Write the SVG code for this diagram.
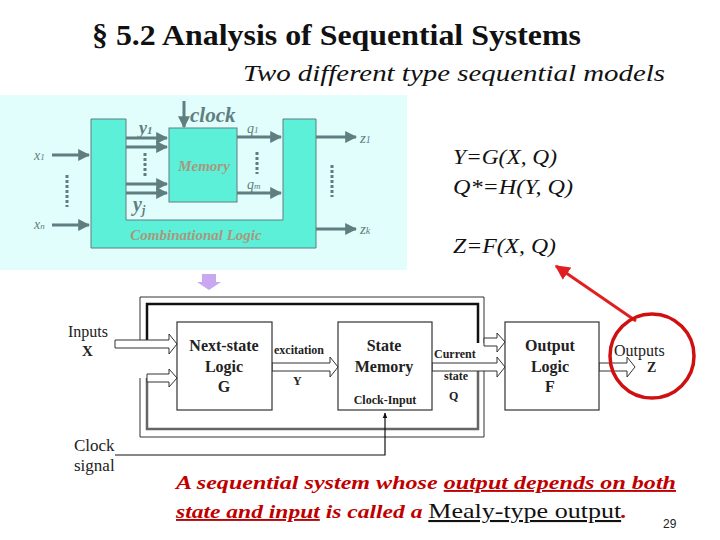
<svg xmlns="http://www.w3.org/2000/svg" width="720" height="540" viewBox="0 0 720 540">
<style>
.ser{font-family:"Liberation Serif",serif}
.g{stroke:#5f7e80;stroke-width:3;fill:none}
.gt{font-family:"Liberation Serif",serif;font-style:italic;fill:#5f7e80}
.box{fill:#fff;stroke:#333;stroke-width:1.2}
.bl{font-family:"Liberation Serif",serif;font-weight:bold;font-size:16px;text-anchor:middle;fill:#222}
.sm{font-family:"Liberation Serif",serif;font-weight:bold;font-size:12px;fill:#222}
.ha{fill:#fff;stroke:#333;stroke-width:1}
.red{font-family:"Liberation Serif",serif;font-style:italic;font-weight:bold;font-size:19px;fill:#c00000}
</style>
<defs>
<marker id="ga" viewBox="0 0 10 10" refX="9" refY="5" markerWidth="4" markerHeight="4" orient="auto"><path d="M0,0L10,5L0,10z" fill="#5f7e80"/></marker>
<marker id="ra" viewBox="0 0 10 10" refX="9" refY="5" markerWidth="5" markerHeight="5" orient="auto"><path d="M0,0L10,5L0,10z" fill="#e02020"/></marker>
<marker id="ka" viewBox="0 0 10 10" refX="9" refY="5" markerWidth="5" markerHeight="6" orient="auto"><path d="M0,1L10,5L0,9z" fill="#111"/></marker>
</defs>
<rect width="720" height="540" fill="#fff"/>
<text x="92" y="45" class="ser" font-size="29" font-weight="bold" fill="#111" textLength="489" lengthAdjust="spacingAndGlyphs">§ 5.2  Analysis of Sequential Systems</text>
<text x="243" y="81" class="ser" font-size="23" font-style="italic" fill="#111" textLength="422" lengthAdjust="spacingAndGlyphs">Two different type sequential models</text>

<g id="top-model">
<rect x="0" y="95" width="407" height="175" fill="#e1fdfc"/>
<path d="M91,119H126V220H283V119H316V248H91Z" fill="#5df0d8" stroke="#5f7e80" stroke-width="1"/>
<rect x="169" y="128" width="68" height="74" fill="#5df0d8" stroke="#5f7e80" stroke-width="1"/>
<text x="204" y="171" class="gt" font-size="15" font-weight="bold" text-anchor="middle" style="fill:#a89880">Memory</text>
<text x="196" y="240" class="gt" font-size="15" font-weight="bold" text-anchor="middle" style="fill:#a89880">Combinational Logic</text>
<g class="g">
<line x1="52" y1="155" x2="89" y2="155" marker-end="url(#ga)"/>
<line x1="52" y1="225" x2="89" y2="225" marker-end="url(#ga)"/>
<line x1="126" y1="138" x2="167" y2="138" marker-end="url(#ga)"/>
<line x1="126" y1="147" x2="167" y2="147" marker-end="url(#ga)"/>
<line x1="126" y1="184" x2="167" y2="184" marker-end="url(#ga)"/>
<line x1="126" y1="193" x2="167" y2="193" marker-end="url(#ga)"/>
<line x1="237" y1="137" x2="281" y2="137" marker-end="url(#ga)"/>
<line x1="237" y1="193" x2="281" y2="193" marker-end="url(#ga)"/>
<line x1="316" y1="137" x2="356" y2="137" marker-end="url(#ga)"/>
<line x1="316" y1="229" x2="356" y2="229" marker-end="url(#ga)"/>
<line x1="184" y1="101" x2="184" y2="127" marker-end="url(#ga)"/>
<line x1="67" y1="175" x2="67" y2="207" stroke-dasharray="3,2"/>
<line x1="145" y1="153" x2="145" y2="176" stroke-dasharray="3,2"/>
<line x1="257" y1="152" x2="257" y2="174" stroke-dasharray="3,2"/>
<line x1="332" y1="165" x2="332" y2="197" stroke-dasharray="3,2"/>
</g>
<text x="190" y="122" class="gt" font-size="21" font-weight="bold">clock</text>
<text x="139" y="134" class="gt" font-size="18" font-weight="bold">y<tspan font-size="11">1</tspan></text>
<text x="133" y="211" class="gt" font-size="20" font-weight="bold">y<tspan font-size="12" dy="3">j</tspan></text>
<text x="247" y="133" class="gt" font-size="14">q<tspan font-size="9">1</tspan></text>
<text x="247" y="189" class="gt" font-size="14">q<tspan font-size="9">m</tspan></text>
<text x="34" y="160" class="gt" font-size="14">x<tspan font-size="9">1</tspan></text>
<text x="34" y="229" class="gt" font-size="14">x<tspan font-size="9">n</tspan></text>
<text x="360" y="143" class="gt" font-size="15">z<tspan font-size="10">1</tspan></text>
<text x="360" y="234" class="gt" font-size="15">z<tspan font-size="10">k</tspan></text>
</g>

<g id="equations" class="ser" font-size="20" font-style="italic" fill="#111">
<text x="453" y="164" textLength="104" lengthAdjust="spacingAndGlyphs">Y=G(X, Q)</text>
<text x="453" y="194" textLength="120" lengthAdjust="spacingAndGlyphs">Q*=H(Y, Q)</text>
<text x="453" y="253" textLength="103" lengthAdjust="spacingAndGlyphs">Z=F(X, Q)</text>
</g>

<path d="M202,274h14v8h5l-12,8l-12,-8h5z" fill="#c8a8f0"/>

<g id="connectors">
<path d="M140,343V297H484V343" fill="none" stroke="#333" stroke-width="1"/>
<path d="M147,343V304H478V343" fill="none" stroke="#111" stroke-width="2.5"/>
<path d="M140,378V437H484V367" fill="none" stroke="#333" stroke-width="1"/>
<path d="M147,378V429H478V367" fill="none" stroke="#666" stroke-width="2.5"/>
<path class="ha" d="M115,340H169V334L177,344L169,354V348H115Z"/>
<path class="ha" d="M147,374H169V369L177,378L169,387V382H147Z"/>
<path class="ha" d="M272,363H330V357L338,367L330,377V371H272Z"/>
<path class="ha" d="M432,363H497V357L505,367L497,377V371H432Z"/>
<path class="ha" d="M484,338H497V333L505,342L497,352V346H484Z"/>
<path class="ha" d="M599,363H627V357L635,367L627,377V371H599Z"/>
<path d="M115,455H385V413" fill="none" stroke="#111" stroke-width="1.2" marker-end="url(#ka)"/>
<line x1="636" y1="321" x2="556" y2="266" stroke="#e02020" stroke-width="3" marker-end="url(#ra)"/>
<circle cx="652" cy="356" r="42" fill="none" stroke="#d01010" stroke-width="3.5"/>
</g>

<g id="next-state"><rect class="box" x="177" y="322" width="95" height="88"/>
<text class="bl" x="224" y="351">Next-state</text><text class="bl" x="224" y="372">Logic</text><text class="bl" x="224" y="392">G</text></g>
<g id="state-memory"><rect class="box" x="338" y="322" width="94" height="88"/>
<text class="bl" x="384" y="351">State</text><text class="bl" x="384" y="372">Memory</text>
<text class="sm" x="385" y="404" text-anchor="middle">Clock-Input</text></g>
<g id="output-logic"><rect class="box" x="505" y="322" width="94" height="88"/>
<text class="bl" x="550" y="351">Output</text><text class="bl" x="550" y="372">Logic</text><text class="bl" x="550" y="392">F</text></g>

<g font-family="Liberation Serif,serif" fill="#222">
<text x="68" y="337" font-size="16">Inputs</text>
<text x="82" y="356" font-size="15" font-weight="bold">X</text>
<text class="sm" x="274" y="354">excitation</text>
<text class="sm" x="293" y="385">Y</text>
<text class="sm" x="434" y="358">Current</text>
<text class="sm" x="444" y="380">state</text>
<text class="sm" x="449" y="400">Q</text>
<text x="614" y="356" font-size="16">Outputs</text>
<text x="647" y="372" font-size="14" font-weight="bold">Z</text>
<text x="74" y="451" font-size="17">Clock</text>
<text x="74" y="471" font-size="17">signal</text>
</g>

<g id="caption">
<text class="red" x="176" y="489" textLength="500" lengthAdjust="spacingAndGlyphs">A sequential system whose <tspan text-decoration="underline">output depends on both</tspan></text>
<text class="red" x="176" y="518" textLength="451" lengthAdjust="spacingAndGlyphs"><tspan text-decoration="underline">state and input</tspan> is called a <tspan fill="#111" font-style="normal" font-weight="normal" font-size="21" text-decoration="underline">Mealy-type output</tspan>.</text>
<text x="663" y="528" font-family="Liberation Sans,sans-serif" font-size="12" fill="#222">29</text>
</g>
</svg>
